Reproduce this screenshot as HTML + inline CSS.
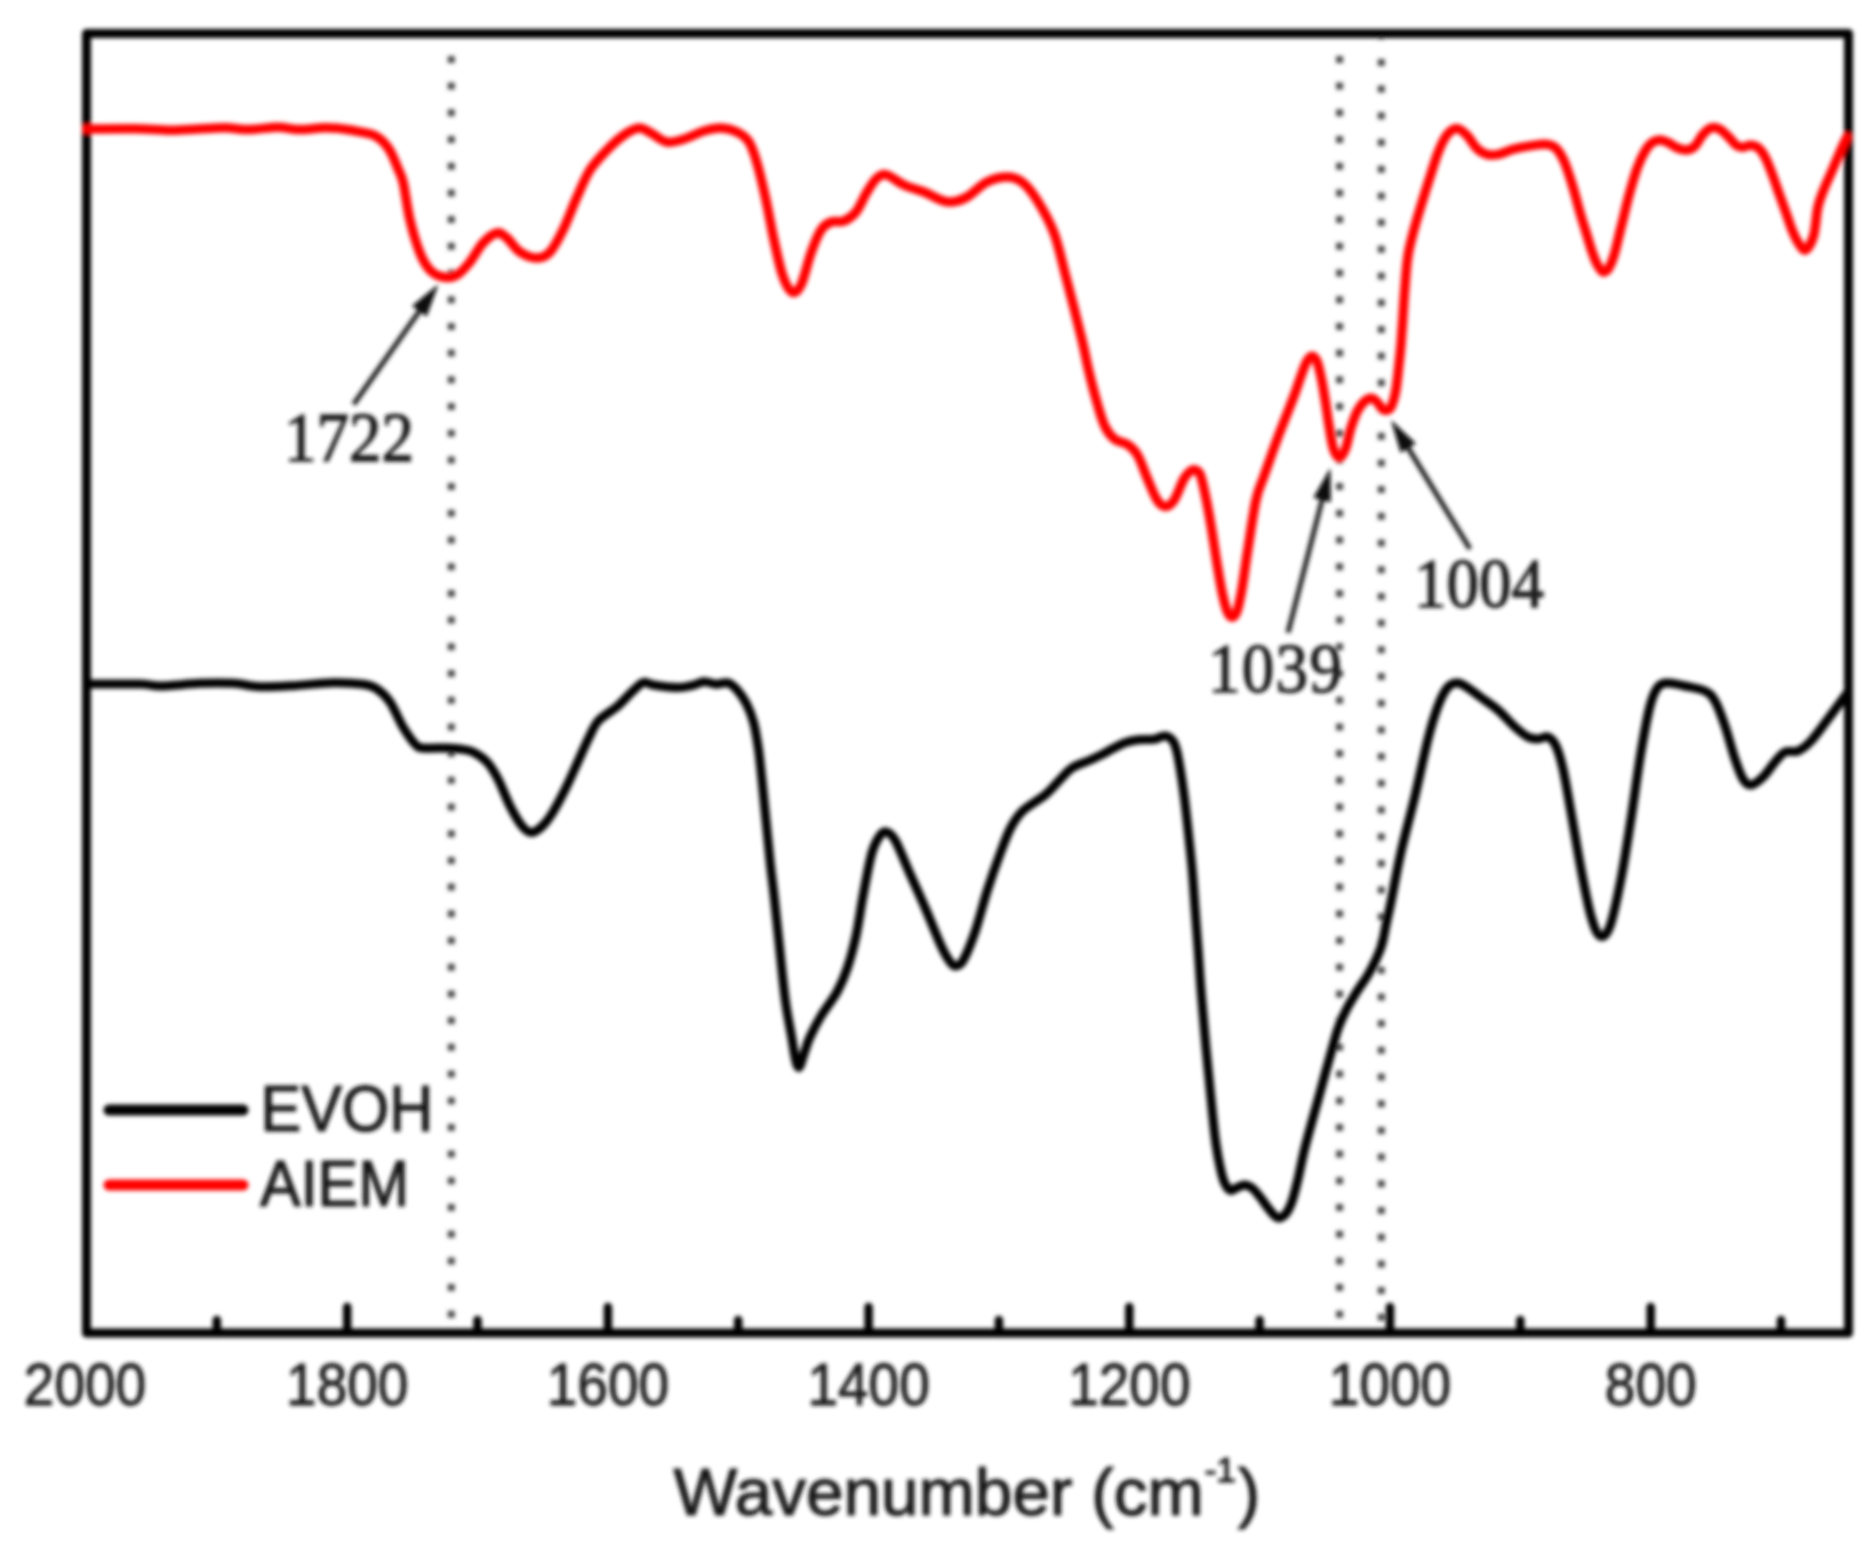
<!DOCTYPE html>
<html><head><meta charset="utf-8"><title>FTIR</title>
<style>
html,body{margin:0;padding:0;background:#fff;}
body{width:1872px;height:1558px;overflow:hidden;}
svg{display:block;}
.sans{font-family:"Liberation Sans",Arial,Helvetica,sans-serif;fill:#151515;}
.serif{font-family:"Liberation Serif","Times New Roman",serif;fill:#1a1a1a;}
</style></head><body>
<svg width="1872" height="1558" viewBox="0 0 1872 1558">
<defs><filter id="b" x="-5%" y="-5%" width="110%" height="110%"><feGaussianBlur stdDeviation="2.0"/></filter></defs>
<rect width="1872" height="1558" fill="#fff"/>
<g filter="url(#b)">
<g stroke="#4c4c4c" stroke-width="7" stroke-dasharray="7 19.7" fill="none"><line x1="451.3" y1="55.9" x2="451.3" y2="1322"/><line x1="1339.6" y1="55.9" x2="1339.6" y2="1322"/><line x1="1381.3" y1="32.2" x2="1381.3" y2="1322"/></g>
<g stroke="#000" stroke-width="8.5" stroke-linecap="round"><line x1="86.5" y1="1333" x2="86.5" y2="1307"/><line x1="347.2" y1="1333" x2="347.2" y2="1307"/><line x1="607.9" y1="1333" x2="607.9" y2="1307"/><line x1="868.6" y1="1333" x2="868.6" y2="1307"/><line x1="1129.3" y1="1333" x2="1129.3" y2="1307"/><line x1="1390.0" y1="1333" x2="1390.0" y2="1307"/><line x1="1650.7" y1="1333" x2="1650.7" y2="1307"/><line x1="216.8" y1="1333" x2="216.8" y2="1320"/><line x1="477.5" y1="1333" x2="477.5" y2="1320"/><line x1="738.2" y1="1333" x2="738.2" y2="1320"/><line x1="998.9" y1="1333" x2="998.9" y2="1320"/><line x1="1259.6" y1="1333" x2="1259.6" y2="1320"/><line x1="1520.3" y1="1333" x2="1520.3" y2="1320"/><line x1="1781.0" y1="1333" x2="1781.0" y2="1320"/></g>
<rect x="86.5" y="33.5" width="1762.0" height="1299.5" fill="none" stroke="#000" stroke-width="9" stroke-linejoin="round"/>
<path d="M85.0 684.0C94.2 684.0 127.5 683.7 140.0 684.0C152.5 684.3 150.0 686.1 160.0 686.0C170.0 685.9 187.8 683.8 200.0 683.3C212.2 682.8 223.0 682.7 233.0 683.3C243.0 683.9 250.0 686.3 260.0 686.7C270.0 687.1 280.8 686.4 293.0 685.7C305.2 685.0 321.3 682.9 333.0 682.7C344.7 682.5 355.7 683.2 363.0 684.3C370.3 685.3 372.5 686.0 377.0 689.0C381.5 692.0 385.7 695.7 390.0 702.0C394.3 708.3 398.8 720.0 403.0 727.0C407.2 734.0 411.7 740.5 415.0 744.0C418.3 747.5 417.7 747.3 423.0 748.0C428.3 748.7 440.8 747.8 447.0 748.0C453.2 748.2 455.7 748.3 460.0 749.0C464.3 749.7 468.5 749.8 473.0 752.0C477.5 754.2 482.8 757.5 487.0 762.0C491.2 766.5 494.2 771.7 498.0 779.0C501.8 786.3 506.0 798.2 510.0 806.0C514.0 813.8 518.4 821.6 522.0 826.0C525.6 830.4 528.2 832.5 531.6 832.5C535.0 832.5 538.8 829.3 542.1 826.3C545.4 823.3 547.6 820.8 551.5 814.5C555.4 808.2 561.3 797.1 565.6 788.5C569.9 779.9 573.5 771.4 577.4 762.8C581.3 754.2 585.7 744.0 589.2 737.0C592.7 730.0 593.9 725.6 598.6 720.5C603.3 715.4 611.9 711.1 617.4 706.4C622.9 701.7 627.7 695.9 631.5 692.3C635.3 688.6 637.8 686.2 640.0 684.5C642.2 682.8 642.5 682.2 645.0 682.3C647.5 682.4 649.4 684.4 655.0 685.3C660.6 686.2 672.2 687.6 678.5 687.6C684.8 687.6 688.3 686.3 692.6 685.3C696.9 684.3 700.4 681.9 704.3 681.7C708.2 681.5 712.2 684.1 716.1 684.3C720.0 684.5 724.3 681.9 727.8 682.9C731.3 683.9 734.1 686.5 737.2 690.0C740.3 693.5 743.9 698.6 746.6 704.1C749.4 709.6 751.7 715.5 753.7 722.9C755.7 730.3 757.0 739.3 758.4 748.7C759.8 758.1 760.7 768.3 761.9 779.3C763.1 790.3 764.0 800.8 765.4 814.5C766.8 828.2 768.7 848.1 770.1 861.5C771.5 874.9 772.5 881.6 774.0 895.0C775.5 908.4 777.1 924.5 779.0 942.0C780.9 959.5 783.2 984.3 785.3 1000.0C787.4 1015.7 789.9 1026.7 791.5 1036.0C793.1 1045.3 793.9 1051.2 794.8 1056.0C795.7 1060.8 796.2 1062.6 796.8 1064.5C797.4 1066.4 797.8 1067.1 798.4 1067.3C799.0 1067.5 799.5 1067.0 800.2 1065.5C800.9 1064.0 801.6 1061.3 802.5 1058.5C803.4 1055.7 804.5 1052.1 805.8 1048.5C807.0 1044.9 807.5 1042.4 810.0 1037.0C812.5 1031.6 816.5 1023.5 821.0 1016.0C825.5 1008.5 832.7 999.8 837.0 992.0C841.3 984.2 843.8 978.3 847.0 969.0C850.2 959.7 853.3 948.2 856.0 936.0C858.7 923.8 860.4 909.8 863.0 896.0C865.6 882.2 869.0 863.2 871.8 853.2C874.6 843.2 877.3 839.3 879.8 835.8C882.3 832.3 884.1 831.1 886.8 832.0C889.4 832.9 891.9 834.4 895.7 841.2C899.5 848.1 904.7 861.8 909.7 873.1C914.7 884.4 920.3 896.6 925.6 908.9C930.9 921.2 937.5 938.0 941.5 946.7C945.5 955.4 947.1 957.8 949.5 961.0C951.9 964.2 953.3 966.2 955.6 966.0C957.9 965.8 960.2 965.7 963.4 960.0C966.6 954.3 971.0 943.6 975.0 932.0C979.0 920.4 983.1 903.5 987.3 890.5C991.5 877.5 996.0 864.6 1000.0 854.0C1004.0 843.4 1007.2 834.2 1011.1 827.0C1015.0 819.8 1017.5 815.8 1023.1 810.5C1028.8 805.2 1038.8 800.1 1045.0 795.0C1051.2 789.9 1055.5 784.1 1060.0 779.6C1064.5 775.1 1067.3 771.1 1072.0 768.0C1076.7 764.9 1083.0 763.2 1088.0 761.0C1093.0 758.8 1097.8 756.6 1102.0 754.5C1106.2 752.4 1109.2 750.5 1113.0 748.5C1116.8 746.5 1120.8 744.2 1125.0 742.7C1129.2 741.2 1133.7 740.4 1138.5 739.8C1143.3 739.2 1150.1 739.8 1153.9 739.3C1157.8 738.8 1159.3 737.1 1161.6 736.6C1163.8 736.1 1165.5 735.6 1167.4 736.4C1169.3 737.2 1171.6 738.8 1173.2 741.4C1174.8 744.0 1175.7 746.7 1177.0 752.0C1178.3 757.3 1179.6 765.2 1180.9 773.2C1182.2 781.2 1183.4 789.9 1184.7 800.2C1186.0 810.5 1187.3 822.6 1188.6 834.8C1189.9 847.0 1191.4 860.4 1192.5 873.3C1193.6 886.1 1194.3 899.0 1195.3 911.9C1196.2 924.8 1197.3 938.2 1198.2 950.4C1199.1 962.6 1199.8 974.5 1200.6 985.0C1201.4 995.5 1202.1 1003.1 1203.0 1013.4C1203.9 1023.7 1204.9 1035.7 1205.9 1046.8C1206.9 1057.9 1208.1 1069.0 1209.2 1080.1C1210.3 1091.2 1211.4 1102.9 1212.5 1113.5C1213.6 1124.1 1214.6 1134.6 1215.9 1143.5C1217.2 1152.4 1218.7 1160.5 1220.1 1166.9C1221.5 1173.3 1222.5 1178.0 1224.2 1181.9C1225.9 1185.8 1228.0 1189.3 1230.1 1190.3C1232.2 1191.3 1234.3 1188.7 1236.7 1187.8C1239.1 1186.9 1241.8 1184.9 1244.3 1184.9C1246.8 1184.9 1249.2 1185.8 1251.8 1187.8C1254.4 1189.8 1257.3 1193.5 1260.1 1197.0C1262.9 1200.5 1266.0 1205.4 1268.5 1208.6C1271.0 1211.8 1273.2 1214.7 1275.1 1216.2C1277.0 1217.7 1278.3 1218.2 1280.1 1217.8C1281.9 1217.4 1284.0 1216.2 1286.0 1213.6C1288.0 1211.0 1289.8 1207.5 1291.8 1202.0C1293.8 1196.5 1295.6 1188.9 1297.7 1180.3C1299.8 1171.7 1301.7 1160.8 1304.3 1150.2C1306.9 1139.6 1311.0 1125.2 1313.3 1116.8C1315.6 1108.4 1316.0 1107.2 1318.0 1100.0C1320.0 1092.8 1322.8 1082.2 1325.2 1073.5C1327.6 1064.8 1330.2 1055.5 1332.4 1047.8C1334.6 1040.1 1336.1 1033.8 1338.5 1027.3C1340.9 1020.8 1343.7 1014.8 1346.8 1008.8C1349.9 1002.8 1353.6 996.9 1357.0 991.4C1360.4 985.9 1364.2 981.1 1367.3 976.0C1370.4 970.9 1373.1 965.6 1375.5 960.5C1377.9 955.4 1380.0 951.0 1381.7 945.1C1383.5 939.2 1384.5 932.2 1386.0 925.0C1387.5 917.8 1388.5 914.2 1391.0 902.0C1393.5 889.8 1397.0 869.7 1401.0 852.0C1405.0 834.3 1410.5 814.8 1415.0 796.0C1419.5 777.2 1424.2 754.0 1428.0 739.0C1431.8 724.0 1434.7 714.7 1438.0 706.0C1441.3 697.3 1444.7 690.8 1448.0 687.0C1451.3 683.2 1454.7 682.8 1458.0 683.0C1461.3 683.2 1464.2 685.6 1468.0 688.0C1471.8 690.4 1476.0 693.8 1481.0 697.5C1486.0 701.2 1492.3 705.1 1498.0 710.0C1503.7 714.9 1510.0 722.5 1515.0 727.0C1520.0 731.5 1524.2 735.0 1528.0 737.0C1531.8 739.0 1534.7 739.0 1538.0 739.0C1541.3 739.0 1545.0 735.8 1548.0 737.0C1551.0 738.2 1553.5 740.7 1556.0 746.0C1558.5 751.3 1560.5 758.0 1563.0 769.0C1565.5 780.0 1568.0 795.3 1571.0 812.0C1574.0 828.7 1577.7 851.7 1581.0 869.0C1584.3 886.3 1587.8 904.8 1591.0 916.0C1594.2 927.2 1596.8 934.3 1600.0 936.0C1603.2 937.7 1606.5 935.5 1610.0 926.0C1613.5 916.5 1617.5 896.8 1621.0 879.0C1624.5 861.2 1627.7 840.2 1631.0 819.0C1634.3 797.8 1637.8 770.8 1641.0 752.0C1644.2 733.2 1647.2 716.8 1650.0 706.0C1652.8 695.2 1655.0 690.8 1658.0 687.0C1661.0 683.2 1663.5 683.2 1668.0 683.0C1672.5 682.8 1678.8 684.7 1685.0 686.0C1691.2 687.3 1700.0 688.5 1705.0 691.0C1710.0 693.5 1711.7 695.2 1715.0 701.0C1718.3 706.8 1721.7 716.3 1725.0 726.0C1728.3 735.7 1732.0 750.2 1735.0 759.0C1738.0 767.8 1740.3 774.7 1743.0 779.0C1745.7 783.3 1747.7 785.3 1751.0 785.0C1754.3 784.7 1759.0 780.8 1763.0 777.0C1767.0 773.2 1771.3 766.2 1775.0 762.0C1778.7 757.8 1781.2 753.8 1785.0 752.0C1788.8 750.2 1793.7 752.8 1798.0 751.0C1802.3 749.2 1806.0 746.3 1811.0 741.0C1816.0 735.7 1821.8 727.2 1828.0 719.0C1834.2 710.8 1844.7 696.5 1848.0 692.0" fill="none" stroke="#000" stroke-width="9" stroke-linejoin="round" stroke-linecap="butt"/>
<path d="M86.5 129.0C94.5 128.9 120.5 128.5 134.5 128.7C148.6 128.9 160.2 130.2 170.8 130.3C181.4 130.4 188.9 129.4 198.0 129.0C207.1 128.6 216.8 127.7 225.3 127.8C233.8 127.9 240.1 129.7 248.9 129.6C257.7 129.5 269.8 127.2 278.0 127.2C286.2 127.2 290.1 129.5 298.0 129.6C305.9 129.7 317.6 127.9 325.2 127.8C332.8 127.7 337.3 128.3 343.4 129.0C349.4 129.7 356.4 131.0 361.5 132.1C366.6 133.2 370.6 133.8 374.2 135.4C377.8 137.0 380.6 139.1 383.3 141.8C386.0 144.5 388.2 147.4 390.6 151.8C393.0 156.2 395.7 162.9 397.8 168.1C399.9 173.3 401.3 174.3 403.3 183.0C405.3 191.7 407.2 208.3 410.0 220.0C412.8 231.7 416.7 244.7 420.0 253.0C423.3 261.3 426.2 266.0 430.0 270.0C433.8 274.0 438.5 276.2 443.0 277.0C447.5 277.8 452.5 277.5 457.0 275.0C461.5 272.5 465.7 267.3 470.0 262.0C474.3 256.7 478.5 247.8 483.0 243.0C487.5 238.2 493.0 233.8 497.0 233.0C501.0 232.2 503.2 234.8 507.0 238.0C510.8 241.2 515.0 248.7 520.0 252.0C525.0 255.3 532.0 258.0 537.0 258.0C542.0 258.0 545.7 256.7 550.0 252.0C554.3 247.3 558.5 239.2 563.0 230.0C567.5 220.8 572.5 207.0 577.0 197.0C581.5 187.0 585.0 177.8 590.0 170.0C595.0 162.2 601.3 155.8 607.0 150.0C612.7 144.2 618.7 138.7 624.0 135.0C629.3 131.3 634.5 128.3 639.0 128.0C643.5 127.7 646.3 130.7 651.0 133.0C655.7 135.3 661.5 141.0 667.0 142.0C672.5 143.0 677.8 140.8 684.0 139.0C690.2 137.2 697.8 132.8 704.0 131.0C710.2 129.2 715.5 127.8 721.0 128.0C726.5 128.2 732.3 129.7 737.0 132.0C741.7 134.3 745.7 136.8 749.0 142.0C752.3 147.2 754.2 153.3 757.0 163.0C759.8 172.7 763.2 187.2 766.0 200.0C768.8 212.8 771.2 227.5 774.0 240.0C776.8 252.5 779.5 266.3 782.5 275.0C785.5 283.7 788.9 290.3 792.0 292.0C795.1 293.7 797.8 291.5 801.0 285.0C804.2 278.5 807.7 262.2 811.0 253.0C814.3 243.8 817.7 235.2 821.0 230.0C824.3 224.8 827.2 223.5 831.0 222.0C834.8 220.5 839.8 222.7 844.0 221.0C848.2 219.3 852.2 216.8 856.0 212.0C859.8 207.2 863.5 197.7 867.0 192.0C870.5 186.3 873.7 180.8 877.0 178.0C880.3 175.2 882.5 173.8 887.0 175.0C891.5 176.2 897.8 182.2 904.0 185.0C910.2 187.8 917.8 189.5 924.0 192.0C930.2 194.5 936.3 198.3 941.0 200.0C945.7 201.7 947.7 202.5 952.0 202.0C956.3 201.5 961.2 200.3 967.0 197.0C972.8 193.7 980.3 185.3 987.0 182.0C993.7 178.7 1001.2 177.0 1007.0 177.0C1012.8 177.0 1017.0 178.2 1022.0 182.0C1027.0 185.8 1031.7 191.5 1037.0 200.0C1042.3 208.5 1049.2 220.2 1054.0 233.0C1058.8 245.8 1061.3 259.2 1066.0 277.0C1070.7 294.8 1078.3 324.7 1082.0 340.0C1085.7 355.3 1085.8 358.3 1088.3 368.9C1090.8 379.5 1094.5 393.9 1097.3 403.5C1100.1 413.1 1102.1 420.7 1105.0 426.6C1107.9 432.6 1110.9 436.1 1114.7 439.2C1118.5 442.2 1124.2 442.2 1128.1 444.9C1131.9 447.6 1134.6 449.9 1137.8 455.5C1141.0 461.1 1144.2 471.2 1147.4 478.6C1150.6 486.0 1154.0 495.2 1157.0 499.8C1160.0 504.4 1162.8 506.5 1165.7 506.5C1168.6 506.5 1171.2 504.4 1174.3 499.8C1177.3 495.2 1181.3 483.4 1184.0 478.6C1186.7 473.8 1188.8 472.3 1190.7 470.9C1192.6 469.5 1193.9 469.4 1195.5 470.0C1197.1 470.6 1198.7 470.8 1200.3 474.8C1201.9 478.8 1203.3 485.7 1205.1 494.0C1206.9 502.3 1209.0 513.6 1210.9 524.8C1212.8 536.0 1214.8 549.8 1216.7 561.4C1218.6 573.0 1220.7 585.8 1222.5 594.1C1224.3 602.5 1225.7 607.6 1227.3 611.5C1228.9 615.4 1230.5 617.2 1232.1 617.2C1233.7 617.2 1235.3 616.0 1236.9 611.5C1238.5 607.0 1239.9 600.2 1241.7 590.3C1243.5 580.3 1245.1 566.8 1247.5 551.8C1249.9 536.8 1253.3 512.4 1256.0 500.0C1258.7 487.6 1261.0 484.7 1263.6 477.3C1266.1 469.9 1268.8 462.6 1271.3 455.5C1273.8 448.4 1276.4 441.4 1278.9 434.7C1281.5 428.0 1284.0 421.6 1286.6 415.1C1289.1 408.6 1291.8 401.9 1294.2 395.5C1296.6 389.1 1298.7 382.4 1300.7 376.9C1302.7 371.4 1304.4 366.1 1306.2 362.7C1308.0 359.2 1309.9 356.4 1311.7 356.2C1313.5 356.0 1315.5 357.8 1317.1 361.6C1318.7 365.4 1320.1 372.6 1321.5 379.1C1322.9 385.7 1324.0 393.1 1325.3 400.9C1326.6 408.7 1327.7 418.0 1329.1 426.0C1330.5 434.0 1331.8 443.6 1333.5 448.9C1335.2 454.2 1337.5 457.7 1339.5 457.7C1341.5 457.7 1343.6 453.8 1345.5 448.9C1347.4 444.0 1348.9 434.6 1350.9 428.2C1352.9 421.8 1355.1 415.2 1357.5 410.7C1359.9 406.1 1362.7 403.0 1365.1 400.9C1367.5 398.8 1369.7 398.0 1371.7 398.2C1373.7 398.4 1375.3 400.2 1377.1 402.0C1378.9 403.8 1381.0 407.7 1382.6 409.1C1384.2 410.5 1385.5 410.6 1386.9 410.2C1388.4 409.8 1389.8 409.6 1391.3 406.4C1392.8 403.2 1394.5 397.3 1395.7 391.1C1396.9 384.9 1397.7 376.2 1398.5 369.0C1399.3 361.8 1400.0 355.6 1400.7 348.0C1401.4 340.4 1401.8 333.2 1402.5 323.6C1403.2 314.0 1403.8 301.4 1404.7 290.3C1405.6 279.2 1406.3 266.6 1407.8 256.9C1409.2 247.2 1411.1 240.8 1413.4 231.9C1415.7 223.0 1418.9 212.7 1421.7 203.5C1424.5 194.3 1427.3 185.4 1430.1 176.8C1432.9 168.2 1435.6 158.6 1438.4 151.7C1441.2 144.8 1443.7 139.0 1446.8 135.1C1449.9 131.2 1453.5 128.4 1456.8 128.4C1460.1 128.4 1463.5 131.8 1466.8 135.1C1470.1 138.4 1473.5 145.2 1476.8 148.4C1480.1 151.6 1483.2 153.3 1486.8 154.3C1490.4 155.3 1494.0 155.2 1498.5 154.3C1503.0 153.5 1508.2 150.6 1513.5 149.2C1518.8 147.8 1524.9 146.7 1530.2 145.9C1535.5 145.1 1541.0 143.9 1545.2 144.2C1549.4 144.5 1552.2 144.9 1555.3 147.6C1558.4 150.2 1560.8 154.1 1563.6 160.1C1566.4 166.1 1569.1 174.6 1571.9 183.5C1574.7 192.4 1578.0 205.4 1580.3 213.5C1582.6 221.6 1584.1 225.9 1586.0 232.0C1587.9 238.1 1589.8 244.8 1591.5 250.0C1593.2 255.2 1595.0 259.8 1596.5 263.0C1598.0 266.2 1599.2 268.0 1600.5 269.5C1601.8 271.0 1602.8 272.3 1604.2 272.0C1605.6 271.7 1607.2 270.8 1608.9 267.9C1610.6 265.0 1612.3 261.2 1614.3 254.5C1616.3 247.8 1618.5 237.4 1621.0 227.5C1623.5 217.6 1626.4 205.0 1629.1 195.1C1631.8 185.2 1634.5 175.6 1637.2 168.2C1639.9 160.8 1642.8 155.0 1645.3 150.7C1647.8 146.4 1649.5 144.4 1652.0 142.6C1654.5 140.8 1657.4 139.9 1660.1 139.9C1662.8 139.9 1665.3 141.2 1668.2 142.6C1671.1 143.9 1674.6 146.8 1677.6 148.0C1680.6 149.2 1683.5 150.3 1686.4 150.0C1689.3 149.7 1692.5 148.3 1695.1 145.9C1697.7 143.5 1699.7 138.6 1701.9 135.8C1704.2 133.0 1706.5 130.5 1708.6 129.1C1710.7 127.7 1712.7 127.4 1714.7 127.5C1716.7 127.6 1718.5 128.2 1720.8 129.8C1723.1 131.4 1726.2 134.6 1728.8 137.2C1731.4 139.8 1734.0 143.6 1736.3 145.3C1738.5 147.0 1739.9 147.3 1742.3 147.3C1744.7 147.3 1747.7 145.2 1750.4 145.3C1753.1 145.4 1756.0 146.0 1758.5 148.0C1761.0 150.0 1763.0 153.1 1765.2 157.4C1767.5 161.7 1769.8 167.8 1772.0 173.6C1774.2 179.4 1776.5 186.2 1778.7 192.5C1781.0 198.8 1783.2 205.0 1785.5 211.3C1787.8 217.6 1790.0 224.8 1792.2 230.2C1794.4 235.6 1796.7 240.4 1798.9 243.7C1801.2 247.0 1803.2 251.2 1805.7 249.8C1808.2 248.4 1811.7 242.5 1813.7 235.4C1815.7 228.3 1816.2 214.6 1817.9 207.1C1819.6 199.6 1821.0 196.8 1823.6 190.2C1826.2 183.6 1830.4 174.7 1833.4 167.6C1836.5 160.5 1839.6 152.9 1841.9 147.8C1844.2 142.7 1846.2 138.8 1847.0 137.0" fill="none" stroke="#ff0000" stroke-width="9.5" stroke-linejoin="round" stroke-linecap="round"/>
<g stroke-width="11" stroke-linecap="round"><line x1="109" y1="1110" x2="243" y2="1110" stroke="#000"/><line x1="109" y1="1185" x2="243" y2="1185" stroke="#ff0000"/></g>
<g class="sans" font-size="61" stroke="#151515" stroke-width="1.1"><text transform="translate(260.5 1131) scale(1 1.06)">EVOH</text><text transform="translate(260 1206) scale(1 1.07)">AIEM</text></g>
<g class="sans" font-size="55" text-anchor="middle" stroke="#1c1c1c" stroke-width="0.8"><text transform="translate(85.0 1405) scale(1 1.07)">2000</text><text transform="translate(347.2 1405) scale(1 1.07)">1800</text><text transform="translate(607.9 1405) scale(1 1.07)">1600</text><text transform="translate(868.6 1405) scale(1 1.07)">1400</text><text transform="translate(1129.3 1405) scale(1 1.07)">1200</text><text transform="translate(1390.0 1405) scale(1 1.07)">1000</text><text transform="translate(1650.7 1405) scale(1 1.07)">800</text></g>
<text class="sans" font-size="67.5" stroke="#151515" stroke-width="1.1" transform="translate(673.5 1515)">Wavenumber (cm<tspan font-size="35" dy="-33" dx="1">-1</tspan><tspan dy="33" dx="2">)</tspan></text>
<g class="serif" font-size="65" stroke="#1a1a1a" stroke-width="1.2"><text transform="translate(284 460.5) scale(1 1.06)" letter-spacing="0">1722</text><text transform="translate(1414 607) scale(1 1.06)" letter-spacing="0">1004</text><text transform="translate(1208 692) scale(1 1.06)" letter-spacing="1.3">1039</text></g>
<line x1="353.7" y1="404.3" x2="420.5" y2="309.6" stroke="#222" stroke-width="5"/><polygon points="438.4,284.3 426.7,316.5 412.0,306.1" fill="#0a0a0a"/><line x1="1288.0" y1="632.7" x2="1322.6" y2="498.0" stroke="#222" stroke-width="5"/><polygon points="1330.3,468.0 1330.8,502.2 1313.4,497.7" fill="#0a0a0a"/><line x1="1470.0" y1="549.0" x2="1407.2" y2="446.4" stroke="#222" stroke-width="5"/><polygon points="1391.0,420.0 1415.9,443.4 1400.6,452.8" fill="#0a0a0a"/>
</g>
</svg>
</body></html>
